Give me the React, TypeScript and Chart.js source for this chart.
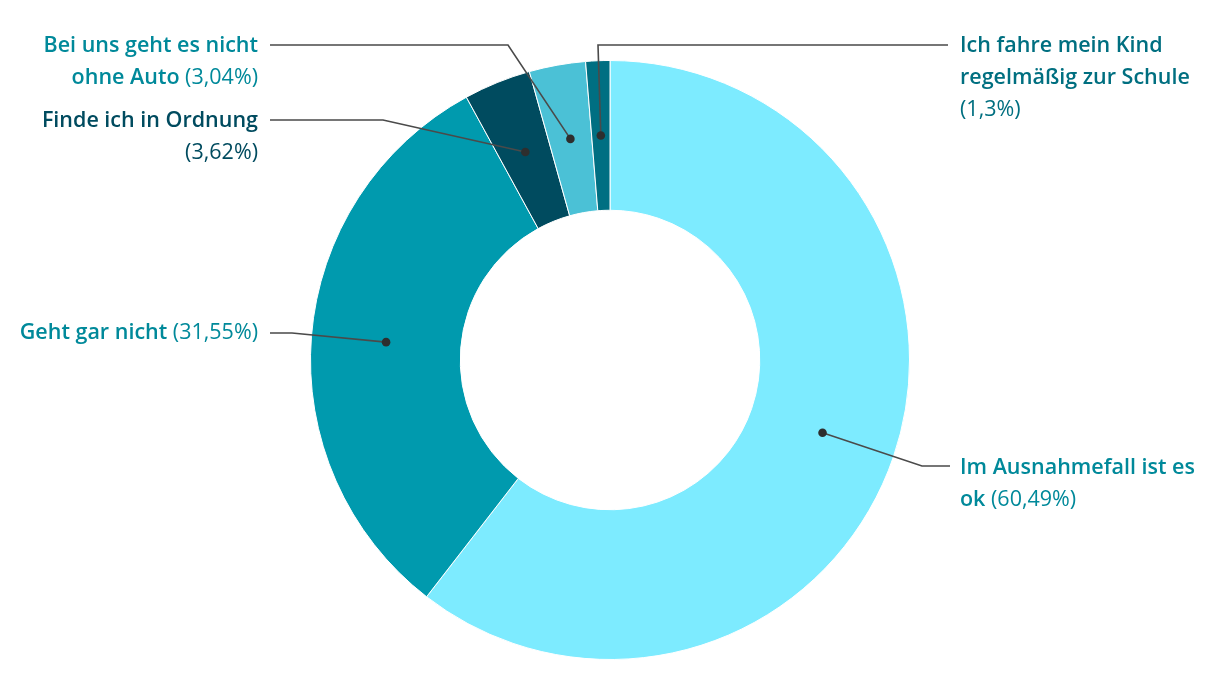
import React, { useEffect, useRef } from "react";
import { Chart, registerables } from "chart.js";

Chart.register(...registerables);

const categories = [
  "Im Ausnahmefall ist es ok",
  "Geht gar nicht",
  "Finde ich in Ordnung",
  "Bei uns geht es nicht ohne Auto",
  "Ich fahre mein Kind regelmäßig zur Schule",
];
const values = [60.49, 31.55, 3.62, 3.04, 1.3];
const sliceColors = ["#7DEBFF", "#009AAE", "#004B5F", "#4BC1D6", "#006F82"];
const labelColors = ["#00899A", "#00899A", "#004B5F", "#00899A", "#006F80"];

// layout of the annotation labels (canvas coordinates)
const labelLayout = [
  { side: "right", elbow: [914, 458], end: [942, 458], textX: 952, textY: 460, breaks: [4] },
  { side: "left", elbow: [284, 325], end: [262, 325], textX: 250, textY: 325, breaks: [] },
  { side: "left", elbow: [375, 112], end: [262, 112], textX: 250, textY: 113, breaks: [4] },
  { side: "left", elbow: [500, 37], end: [262, 37], textX: 250, textY: 38, breaks: [5] },
  { side: "right", elbow: [590, 37], end: [940, 37], textX: 952, textY: 38, breaks: [4, 3] },
];

const FONT = '"Open Sans", sans-serif';
const SIZE = 21.5;
const LINE_H = 32;

const labelPlugin = {
  id: "leaderLabels",
  afterDraw(chart: any) {
    const ctx = chart.ctx;
    const meta = chart.getDatasetMeta(0);
    meta.data.forEach((arc: any, i: number) => {
      const p = arc.getProps(["x", "y", "startAngle", "endAngle", "innerRadius", "outerRadius"], true);
      const mid = (p.startAngle + p.endAngle) / 2;
      const r = (p.innerRadius + p.outerRadius) / 2;
      const dx = p.x + Math.cos(mid) * r;
      const dy = p.y + Math.sin(mid) * r;
      const L = labelLayout[i];
      ctx.save();
      ctx.strokeStyle = "#4a4a4a";
      ctx.lineWidth = 1.6;
      ctx.beginPath();
      ctx.moveTo(dx, dy);
      ctx.lineTo(L.elbow[0], L.elbow[1]);
      ctx.lineTo(L.end[0], L.end[1]);
      ctx.stroke();
      ctx.fillStyle = "#2e2e2e";
      ctx.beginPath();
      ctx.arc(dx, dy, 4.3, 0, Math.PI * 2);
      ctx.fill();

      const pct = "(" + values[i].toLocaleString("de-DE") + "%)";
      const tokens = categories[i].split(" ").map((w) => ({ t: w, b: true }));
      tokens.push({ t: pct, b: false });
      const lines: { t: string; b: boolean }[][] = [];
      let idx = 0;
      for (const n of L.breaks) {
        lines.push(tokens.slice(idx, idx + n));
        idx += n;
      }
      lines.push(tokens.slice(idx));
      ctx.fillStyle = labelColors[i];
      ctx.textBaseline = "middle";
      ctx.textAlign = "left";
      const bold = `600 ${SIZE}px ${FONT}`;
      const reg = `400 ${SIZE}px ${FONT}`;
      lines.forEach((line, li) => {
        const y = L.textY + li * LINE_H;
        const parts = line.map((tk, k) => ({ s: (k > 0 ? " " : "") + tk.t, b: tk.b }));
        let w = 0;
        parts.forEach((pt) => {
          ctx.font = pt.b ? bold : reg;
          w += ctx.measureText(pt.s).width;
        });
        let x = L.side === "left" ? L.textX - w : L.textX;
        parts.forEach((pt) => {
          ctx.font = pt.b ? bold : reg;
          ctx.fillText(pt.s, x, y);
          x += ctx.measureText(pt.s).width;
        });
      });
      ctx.restore();
    });
  },
};

export default function App() {
  const ref = useRef<HTMLCanvasElement | null>(null);
  useEffect(() => {
    if (!ref.current) return;
    const chart = new Chart(ref.current, {
      type: "doughnut",
      data: {
        labels: categories,
        datasets: [
          {
            data: values,
            backgroundColor: sliceColors,
            borderColor: "#ffffff",
            borderWidth: 1,
            hoverOffset: 0,
          },
        ],
      },
      options: {
        animation: false,
        responsive: false,
        cutout: "50%",
        layout: { padding: { top: 52, bottom: 32, left: 0, right: 0 } },
        plugins: { legend: { display: false }, tooltip: { enabled: false } },
      },
      plugins: [labelPlugin],
    });
    return () => chart.destroy();
  }, []);
  return (
    <div style={{ width: 1204, height: 684 }}>
      <canvas ref={ref} width={1204} height={684} style={{ display: "block" }} />
    </div>
  );
}
